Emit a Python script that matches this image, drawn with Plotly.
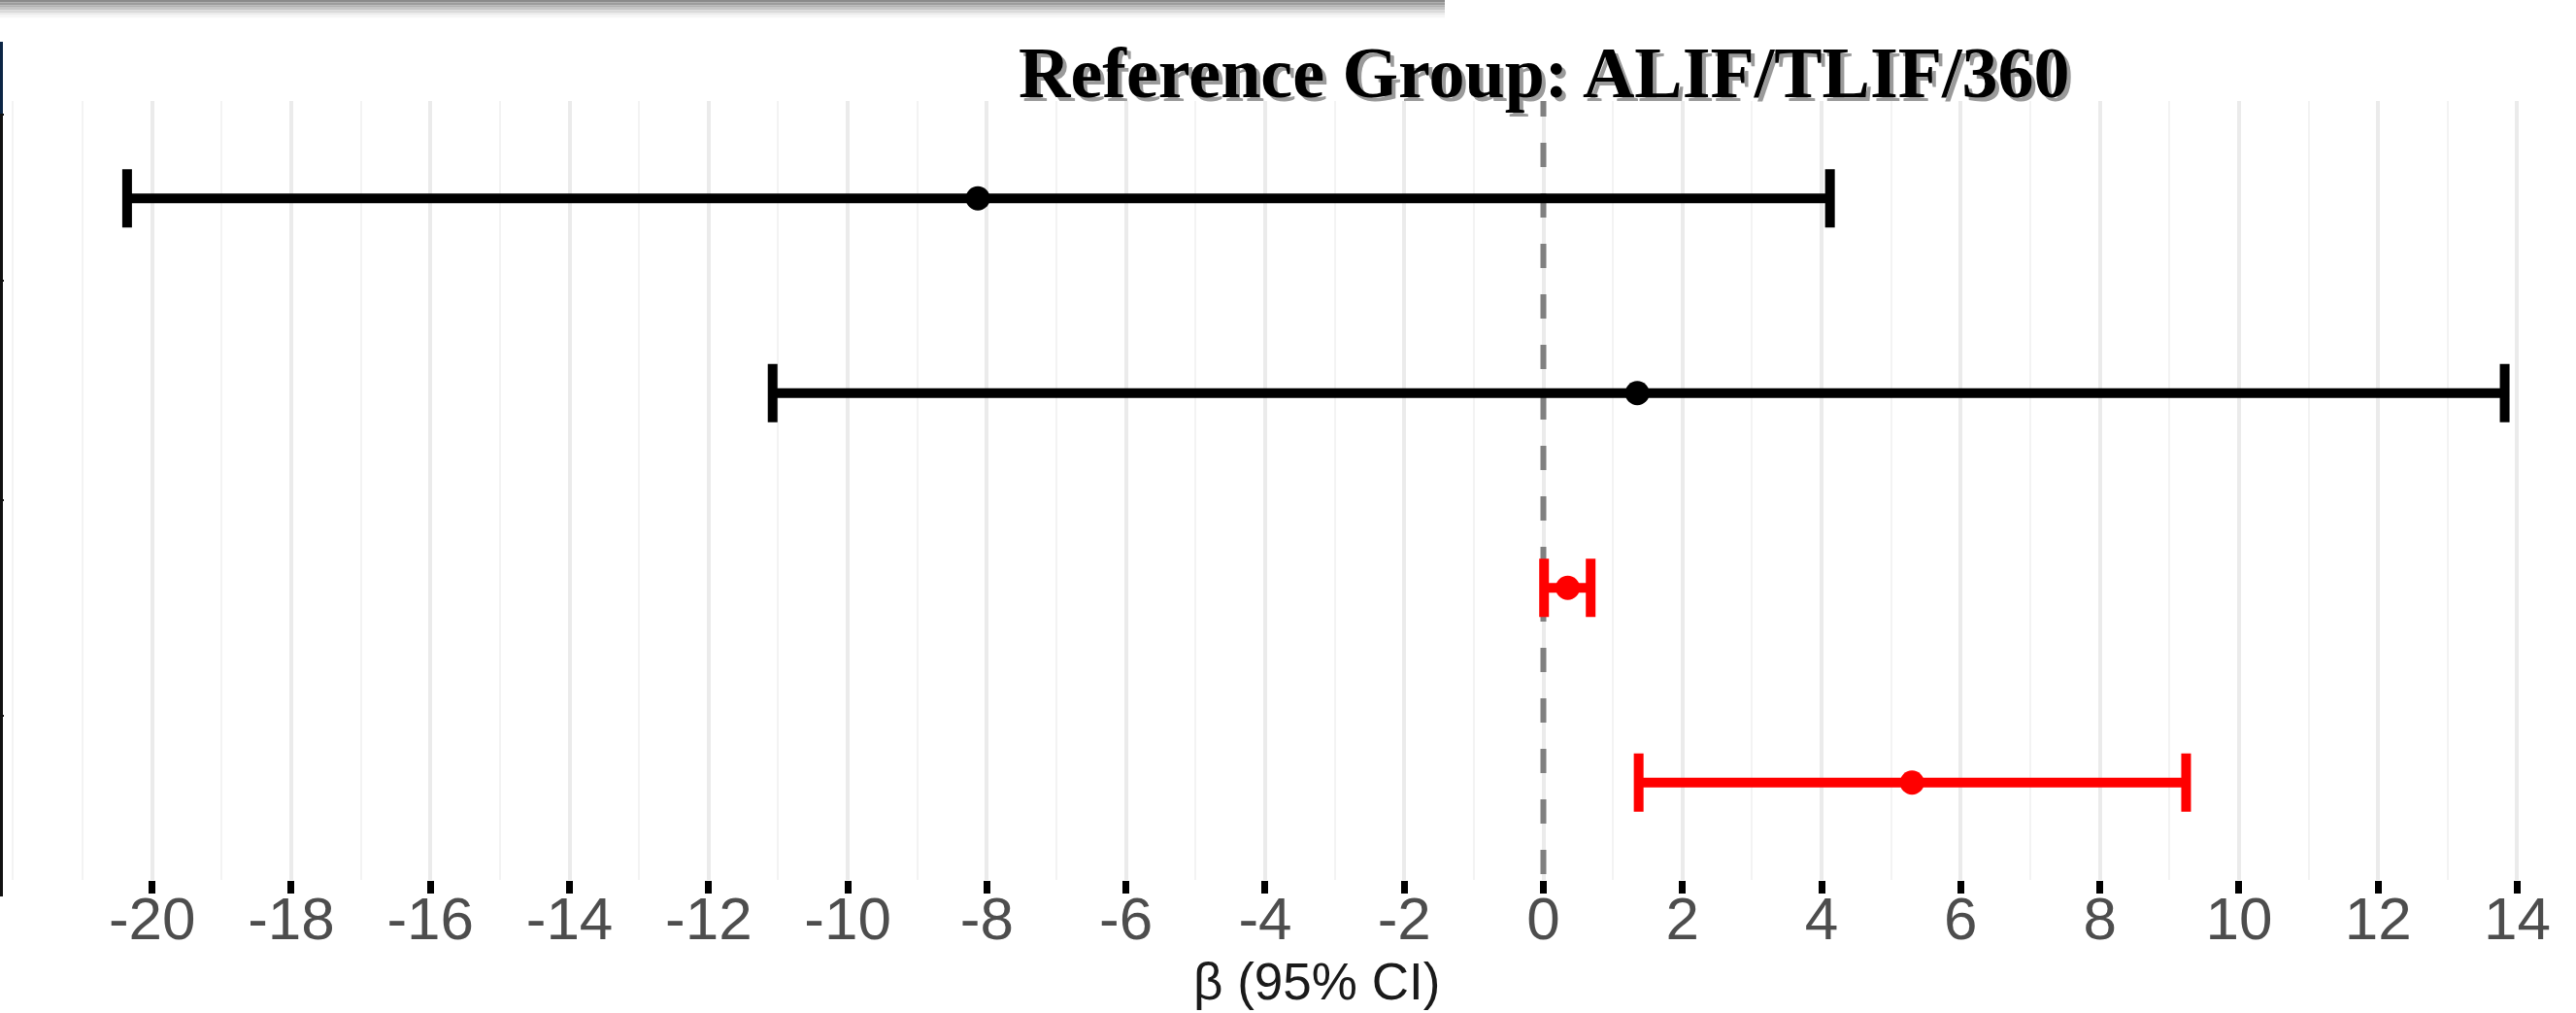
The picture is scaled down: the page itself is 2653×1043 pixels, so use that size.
import plotly.graph_objects as go

# ---- data ----
ROWS = [1, 2, 3, 4]                       # row positions, top to bottom
ESTIMATE = [-8.13, 1.35, 0.35, 5.30]       # beta
LOWER = [-20.36, -11.08, 0.01, 1.37]       # 95% CI lower
UPPER = [4.12, 13.82, 0.68, 9.24]          # 95% CI upper
SIGNIFICANT = [False, False, True, True]
COLOR_NS = "#000000"
COLOR_SIG = "#FF0000"
REF_VALUE = 0
TICK_VALUES = list(range(-20, 15, 2))
TICK_LABELS = [str(v) for v in TICK_VALUES]
TITLE = "Reference Group: ALIF/TLIF/360"
X_TITLE = "β (95% CI)"

W, H = 2653, 1043
ML, MR, MT, MB = 7, 0, 104, 137
PW, PH = W - ML - MR, H - MT - MB


def px_x(p):
    return (p - ML) / PW


def px_y(p):
    return (H - MB - p) / PH


fig = go.Figure()

# dashed reference line at 0 (as a clipped line trace)
fig.add_trace(go.Scatter(
    x=[REF_VALUE, REF_VALUE], y=[0.455, 4.5], mode="lines",
    line=dict(color="#808080", width=6, dash="25px,27px"),
    hoverinfo="skip", showlegend=False))

for color, flag in ((COLOR_NS, False), (COLOR_SIG, True)):
    idx = [i for i, s in enumerate(SIGNIFICANT) if s == flag]
    est = [ESTIMATE[i] for i in idx]
    fig.add_trace(go.Scatter(
        x=est, y=[ROWS[i] for i in idx], mode="markers",
        marker=dict(color=color, size=25, line=dict(width=0)),
        error_x=dict(type="data", symmetric=False,
                     array=[UPPER[i] - ESTIMATE[i] for i in idx],
                     arrayminus=[ESTIMATE[i] - LOWER[i] for i in idx],
                     color=color, thickness=10, width=30),
        showlegend=False))

x_left = (ML - 1589.5) / 71.64
x_right = (W - MR - 1589.5) / 71.64

fig.update_xaxes(
    range=[x_left, x_right], tickmode="array", tickvals=TICK_VALUES, ticktext=TICK_LABELS,
    ticks="outside", ticklen=13, tickwidth=7, tickcolor="#000000",
    tickfont=dict(family="Liberation Sans, Arial", size=62, color="#4D4D4D"),
    ticklabelstandoff=-27, automargin=False,
    showgrid=True, gridcolor="#EBEBEB", gridwidth=4, zeroline=False, showline=False,
    minor=dict(dtick=1, tick0=1, showgrid=True, gridcolor="#F3F3F3", gridwidth=2, ticks=""),
)
fig.update_yaxes(range=[4.5, 0.5], showgrid=False, zeroline=False, showticklabels=False,
                 ticks="", showline=False, automargin=False)

shapes = []
# top grey shadow bar (gradient approximated by bands)
bands = ["#8a8a8a", "#9c9c9c", "#b0b0b0", "#c6c6c6", "#dadada", "#ebebeb", "#f6f6f6"]
for k, c in enumerate(bands):
    shapes.append(dict(type="rect", xref="paper", yref="paper",
                       x0=px_x(0), x1=px_x(1488), y0=px_y(k * 2.6 + 2.6), y1=px_y(k * 2.6),
                       fillcolor=c, line=dict(width=0), layer="above"))
# left border line of neighbouring panel
shapes.append(dict(type="line", xref="paper", yref="paper", x0=px_x(1.5), x1=px_x(1.5),
                   y0=px_y(43), y1=px_y(923), line=dict(color="#111111", width=3)))
shapes.append(dict(type="line", xref="paper", yref="paper", x0=px_x(1.5), x1=px_x(1.5),
                   y0=px_y(43), y1=px_y(118), line=dict(color="#0B2545", width=3)))
for yy in (118, 289, 515, 737):
    shapes.append(dict(type="line", xref="paper", yref="paper", x0=px_x(0), x1=px_x(4),
                       y0=px_y(yy), y1=px_y(yy), line=dict(color="#111111", width=2)))

annotations = [
    dict(text="<b>" + TITLE + "</b>", xref="paper", yref="paper", x=px_x(1594), y=px_y(79),
         xanchor="center", yanchor="middle", showarrow=False,
         font=dict(family="Liberation Serif, Times New Roman", size=74, color="#9a9a9a")),
    dict(text="<b>" + TITLE + "</b>", xref="paper", yref="paper", x=px_x(1590), y=px_y(75),
         xanchor="center", yanchor="middle", showarrow=False,
         font=dict(family="Liberation Serif, Times New Roman", size=74, color="#000000")),
    dict(text=X_TITLE, xref="paper", yref="paper", x=px_x(1356), y=px_y(1011),
         xanchor="center", yanchor="middle", showarrow=False,
         font=dict(family="Liberation Sans, Arial", size=53, color="#1a1a1a")),
]

fig.update_layout(
    width=W, height=H, margin=dict(l=ML, r=MR, t=MT, b=MB, autoexpand=False),
    paper_bgcolor="#FFFFFF", plot_bgcolor="#FFFFFF",
    shapes=shapes, annotations=annotations, showlegend=False,
)

fig.write_html("out.html", config={"displayModeBar": False},
               post_script="document.body.style.margin='0';document.body.style.overflow='hidden';")
